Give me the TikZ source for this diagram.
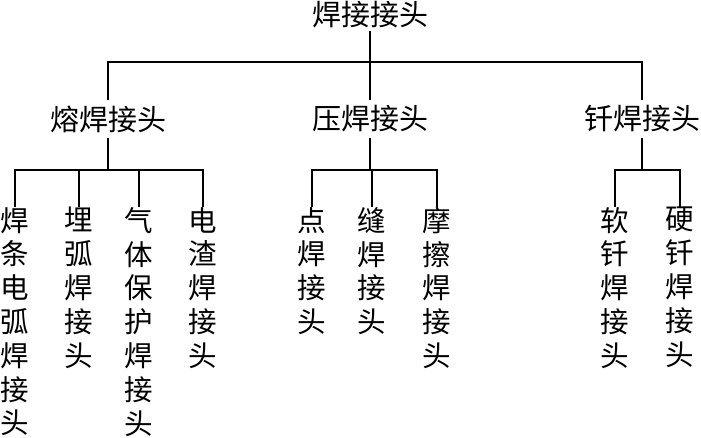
\documentclass[tikz,border=0pt]{standalone}
\usepackage{fontspec}
\newfontfamily\cjk{Noto Sans CJK SC}
\begin{document}
\begin{tikzpicture}[x=1pt,y=-1pt,
  every node/.style={inner sep=0pt},
  lvl/.style={font=\cjk\fontsize{29}{33}\selectfont, inner xsep=0pt, inner ysep=5pt},
  leaf/.style={font=\cjk\fontsize{28.5}{33.8}\selectfont, align=center, anchor=north},
  conn/.style={line width=1.2pt}]
\useasboundingbox[fill=white] (0,0) rectangle (701,437);
% root and level 2
\node[lvl,inner ysep=2pt] (root) at (370,15) {焊接接头};
\node[lvl] (rong) at (108,119) {熔焊接头};
\node[lvl] (ya) at (370,119) {压焊接头};
\node[lvl] (qian) at (642,119) {钎焊接头};
\coordinate (bus0) at (370,62);
\coordinate (bus1) at (110,170);
% leaves
\node[leaf] (l1) at (15,207) {焊\\条\\电\\弧\\焊\\接\\头};
\node[leaf] (l2) at (79,207) {埋\\弧\\焊\\接\\头};
\node[leaf] (l3) at (139,207) {气\\体\\保\\护\\焊\\接\\头};
\node[leaf] (l4) at (203,207) {电\\渣\\焊\\接\\头};
\node[leaf] (m1) at (312,207) {点\\焊\\接\\头};
\node[leaf] (m2) at (372,207) {缝\\焊\\接\\头};
\node[leaf] (m3) at (437,207) {摩\\擦\\焊\\接\\头};
\node[leaf] (r1) at (615,207) {软\\钎\\焊\\接\\头};
\node[leaf] (r2) at (680,207) {硬\\钎\\焊\\接\\头};
% connectors level 1
\draw[conn] (root.south) -- (ya.north);
\draw[conn] (rong.north) -- (rong.north |- bus0) -- (qian.north |- bus0) -- (qian.north);
% fusion group
\draw[conn] (rong.south) -- (rong.south |- bus1);
\draw[conn] (l1.north) -- (l1.north |- bus1) -- (l4.north |- bus1) -- (l4.north);
\draw[conn] (l2.north) -- (l2.north |- bus1);
\draw[conn] (l3.north) -- (l3.north |- bus1);
% pressure group
\draw[conn] (ya.south) -- (ya.south |- bus1);
\draw[conn] (m1.north) -- (m1.north |- bus1) -- (m3.north |- bus1) -- (m3.north);
\draw[conn] (m2.north) -- (m2.north |- bus1);
% brazing group
\draw[conn] (qian.south) -- (qian.south |- bus1);
\draw[conn] (r1.north) -- (r1.north |- bus1) -- (r2.north |- bus1) -- (r2.north);
\end{tikzpicture}
\end{document}
